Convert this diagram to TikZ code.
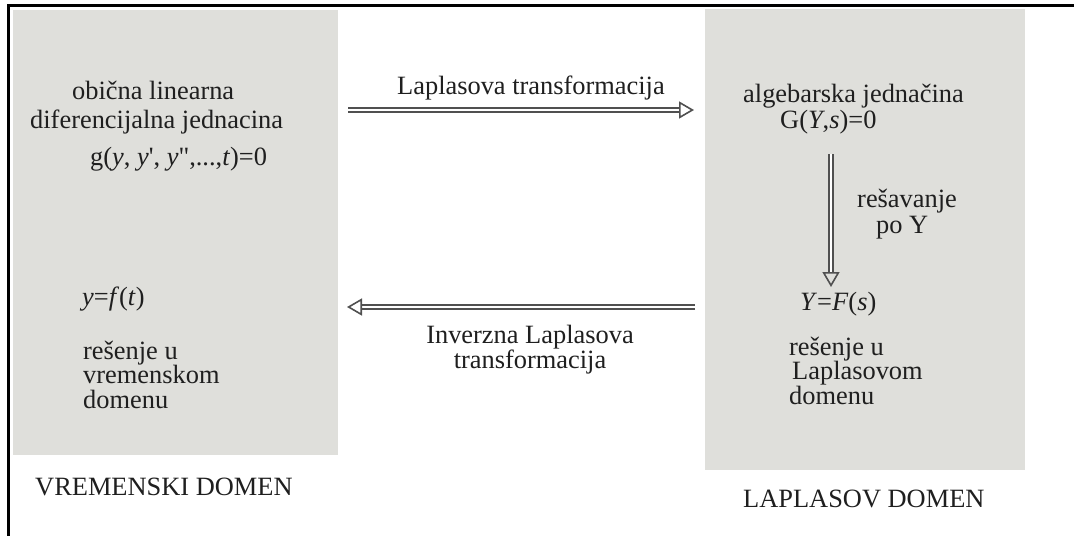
\documentclass[tikz,border=0pt]{standalone}
\usepackage{fontspec}
\setmainfont{Liberation Serif}
\newfontfamily\rawserif{Liberation Serif}
\usetikzlibrary{arrows.meta}
\definecolor{panel}{RGB}{223,223,219}
\definecolor{arrowgray}{RGB}{80,80,80}
\newcommand{\sq}{{\rawserif\symbol{39}}}
\newcommand{\dq}{{\rawserif\symbol{34}}}
\begin{document}
\begin{tikzpicture}[x=1pt,y=-1pt,
  txt/.style={anchor=base west, inner sep=0pt, font=\fontsize{26.4}{28}\selectfont, text=black!88},
  stack/.style={inner sep=0pt, font=\fontsize{26.4}{24.5}\selectfont, text=black!88},
  panelbox/.style={fill=panel, draw=none},
  frameline/.style={line width=3pt, draw=black},
  hollowarrow/.style={draw=arrowgray, line width=1.6pt, double=white, double distance=2.4pt,
    -{Triangle[open, length=15pt, width=17pt, line width=1.6pt]}}
]
\useasboundingbox (0,0) rectangle (1074,536);
\fill[white] (0,0) rectangle (1074,536);
% frame
\draw[frameline] (7,5.5) -- (1074,5.5);
\draw[frameline] (8.5,4) -- (8.5,536);
% panels
\path[panelbox] (13,10) rectangle (338,455);
\path[panelbox] (705,9) rectangle (1025,470);
% left texts
\node[txt] (l1) at (72,99) {obična linearna};
\node[txt] (l2) at (30,128) {diferencijalna jednacina};
\node[txt] (l3) at (90,165) {g(\textit{y}, \textit{y}\sq, \textit{y}\dq,...,\textit{t})=0};
\node[txt] (l4) at (82,305) {\textit{y}=\textit{f}(\textit{t})};
\node[stack, align=left, anchor=base west] (l5) at (83,408) {rešenje u\\vremenskom\\domenu};
\node[txt] (vd) at (35,495) {VREMENSKI DOMEN};
% right texts
\node[txt] (r1) at (743,102) {algebarska jednačina};
\node[txt] (r2) at (780,128) {G(\textit{Y},\textit{s})=0};
\node[txt] (r3) at (857,207) {rešavanje};
\node[txt] (r4) at (876,233) {po Y};
\node[txt] (r5) at (800,310) {\textit{Y}=\textit{F}(\textit{s})};
\node[stack, align=left, anchor=base west] (r6) at (789,404) {rešenje u\\\hspace*{3pt}Laplasovom\\domenu};
\node[txt] (ld) at (743,507) {LAPLASOV DOMEN};
% middle labels
\node[txt] (m1) at (397,94) {Laplasova transformacija};
\node[stack, align=center, anchor=base] (m2) at (530,368) {Inverzna Laplasova\\transformacija};
% arrow end points
\coordinate (a1s) at (348,110);
\coordinate (a1e) at (694,110);
\coordinate (a2s) at (695,307);
\coordinate (a2e) at (347,307);
\coordinate (a3s) at (831,154);
\coordinate (a3e) at (831,287);
\draw[hollowarrow] (a1s) -- (a1e);
\draw[hollowarrow] (a2s) -- (a2e);
\draw[hollowarrow] (a3s) -- (a3e);
\end{tikzpicture}
\end{document}
